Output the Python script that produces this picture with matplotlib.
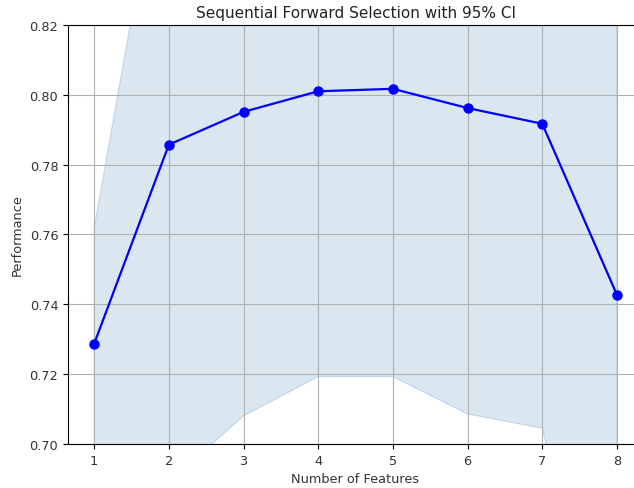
import matplotlib.pyplot as plt
import numpy as np

# number of selected features and cross-validated performance
n_features = [1, 2, 3, 4, 5, 6, 7, 8]
avg_score = [0.7287, 0.7857, 0.7951, 0.8010, 0.8017, 0.7962, 0.7917, 0.7427]
# half width of the 95% confidence interval
ci_bound = [0.0333, 0.0967, 0.0871, 0.0817, 0.0824, 0.0876, 0.0872, 0.1282]

avg = np.array(avg_score)
ci = np.array(ci_bound)

fig = plt.figure(figsize=(6.34, 4.89), dpi=100)
ax = fig.add_axes([0.1073, 0.090, 0.907, 0.857])

ax.fill_between(n_features, avg + ci, avg - ci, alpha=0.2, lw=1, color='steelblue')
ax.plot(n_features, avg, color='blue', marker='o', lw=1.6, markersize=6.5)

ax.set_ylim(0.70, 0.82)
ax.set_xlim(0.65, 8.35)
ax.set_xticks(n_features)
ax.set_yticks([0.70, 0.72, 0.74, 0.76, 0.78, 0.80, 0.82])
ax.tick_params(labelsize=9.3, labelcolor='#333333')
ax.set_xlabel("Number of Features", fontsize=9.3, color='#333333')
ax.set_ylabel("Performance", fontsize=9.3, color='#333333')
ax.set_title("Sequential Forward Selection with 95% CI", fontsize=11, color='#222222')
ax.grid(True)

fig.savefig("out.png", dpi=100)
